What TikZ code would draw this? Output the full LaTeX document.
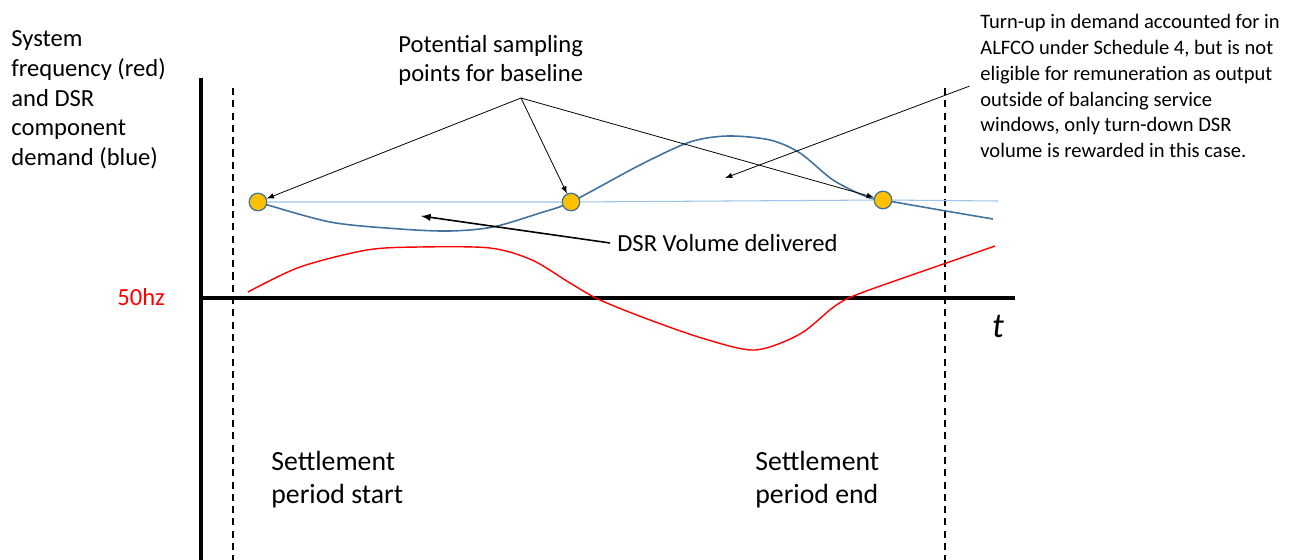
\documentclass[tikz,border=0pt]{standalone}
\usepackage{fontspec}
\setmainfont{Carlito}
\usepackage{xcolor}
\usepackage{tikz}
\usetikzlibrary{positioning}
\definecolor{curveblue}{RGB}{65,113,156}
\definecolor{baseblue}{RGB}{157,195,230}
\definecolor{dotfill}{RGB}{255,192,0}

\begin{document}
\begin{tikzpicture}[x=0.02cm,y=-0.02cm]
  \tikzstyle{txt}=[inner sep=0pt,align=left,anchor=north west]
  \tikzstyle{sample}=[circle,draw=curveblue,fill=dotfill,line width=0.7pt,minimum size=10pt,inner sep=0pt]
  \tikzstyle{pointer}=[->,>=latex,line width=0.45pt]
  \useasboundingbox (0,0) rectangle (1294,560);
  % axes and settlement period bounds
  \draw[line width=2.3pt] (201,78) -- (201,560);
  \draw[line width=2.3pt] (199,298) -- (1015,298);
  \draw[dash pattern=on 4pt off 3pt,line width=0.6pt] (233,88) -- (233,560);
  \draw[dash pattern=on 4pt off 3pt,line width=0.6pt] (945,88) -- (945,560);
  % curves
  \draw[red,line width=0.8pt] plot[smooth] coordinates {(248,292) (300,267) (367,250) (420,247) (490,248) (532,260) (570,283) (600,300) (650,320) (705,339) (755,350) (800,334) (835,306) (861,293) (955,260) (995,246)};
  \draw[curveblue,line width=0.9pt] plot[smooth] coordinates {(258,202) (330,222) (400,229) (450,231) (493,227) (540,213) (571,202) (640,165) (690,142) (728,136) (770,140) (800,153) (833,180) (867,197) (883,200) (940,210) (993,219)};
  \coordinate (baseend) at (998,201);
  \node[sample] (p1) at (258,202) {};
  \node[sample] (p2) at (571,202) {};
  \node[sample] (p3) at (883,200) {};
  \draw[baseblue,line width=0.6pt] (p1) -- (p2) -- (p3) -- (baseend);
  % texts
  \node[txt,font=\fontsize{14}{17}\selectfont] (ylabel) at (11,30) {System\\frequency (red)\\and DSR\\component\\demand (blue)};
  \node[txt,font=\fontsize{14}{16.5}\selectfont] (samp) at (398,35) {Potential sampling\\points for baseline};
  \node[txt,font=\fontsize{11.7}{14.7}\selectfont] (turnup) at (980,14) {Turn-up in demand accounted for in\\ALFCO under Schedule 4, but is not\\eligible for remuneration as output\\outside of balancing service\\windows, only turn-down DSR\\volume is rewarded in this case.};
  \node[txt,font=\fontsize{14}{17}\selectfont] (dsr) at (617,234) {DSR Volume delivered};
  \node[txt,font=\fontsize{14}{17}\selectfont,text=red] (hz) at (117,288) {50hz};
  \node[font=\fontsize{20}{24}\selectfont\itshape] (t) at (998,327) {t};
  \node[txt,font=\fontsize{15.8}{18.8}\selectfont] (start) at (271,451) {Settlement\\period start};
  \node[txt,font=\fontsize{15.8}{18.8}\selectfont] (end) at (755,451) {Settlement\\period end};
  % pointers
  \coordinate (conv) at (521,98);
  \coordinate (bump) at (725,178);
  \coordinate (dip) at (421,216);
  \draw[pointer] (conv) -- (p1);
  \draw[pointer] (conv) -- (p2);
  \draw[pointer] (conv) -- (p3);
  \draw[pointer] ([xshift=-6pt]turnup.west) -- (bump);
  \draw[pointer,line width=0.9pt] ([xshift=-4pt]dsr.west) -- (dip);
\end{tikzpicture}
\end{document}
